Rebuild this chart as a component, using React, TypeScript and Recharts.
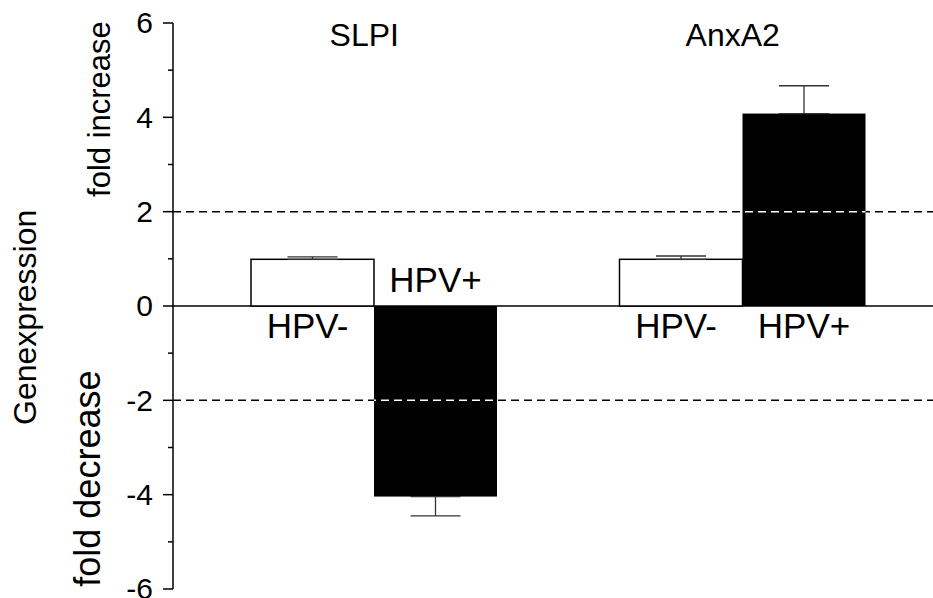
import React from "react";
import {
  BarChart,
  Bar,
  XAxis,
  YAxis,
  ErrorBar,
  ReferenceLine,
} from "recharts";

// values
const genes = ["SLPI", "AnxA2"];
const seriesNames = ["HPV-", "HPV+"];
const hpvNeg = [0.99, 0.99];
const hpvNegErr = [0.05, 0.07];
const hpvPos = [-4.04, 4.08];
const hpvPosErr = [0.41, 0.59];
const yTicks = [-6, -5, -4, -3, -2, -1, 0, 1, 2, 3, 4, 5, 6];
const thresholds = [2, -2];

const FONT = "'Liberation Sans', Arial, Helvetica, sans-serif";
const Y_AXIS_W = 173;
const DASH = "8 5";
const DASH_PERIOD = 13;

// one-sided error: only away from zero
const oneSided = (v: number, e: number) => (v >= 0 ? [0, e] : [e, 0]);

const data = genes.map((g, i) => ({
  gene: g,
  neg: hpvNeg[i],
  negErr: oneSided(hpvNeg[i], hpvNegErr[i]),
  pos: hpvPos[i],
  posErr: oneSided(hpvPos[i], hpvPosErr[i]),
}));

function BarShape(props: any) {
  const { x, y, width, height, payload, seriesKey, label, dark, labelDx } = props;
  const v: number = payload[seriesKey];
  const top = Math.min(y, y + height);
  const h = Math.abs(height);
  const ppu = h / Math.abs(v);
  const zeroY = v >= 0 ? top + h : top;
  // series label sits on the other side of zero
  const labelY = v >= 0 ? zeroY + 32 : zeroY - 14;

  return (
    <g>
      <rect
        x={x}
        y={top}
        width={width}
        height={h}
        fill={dark ? "#000" : "#fff"}
        stroke={dark ? "none" : "#000"}
        strokeWidth={1.5}
      />
      {dark &&
        thresholds
          .filter((t) => (v > 0 ? t > 0 && t < v : t < 0 && t > v))
          .map((t) => (
            <line
              key={t}
              x1={x}
              x2={x + width}
              y1={zeroY - t * ppu}
              y2={zeroY - t * ppu}
              stroke="#fff"
              strokeWidth={1.5}
              strokeDasharray={DASH}
              strokeDashoffset={(x - Y_AXIS_W) % DASH_PERIOD}
            />
          ))}
      <text
        x={x + width / 2 + labelDx}
        y={labelY}
        textAnchor="middle"
        fontSize={35}
        fontFamily={FONT}
        fill="#000"
      >
        {label}
      </text>
    </g>
  );
}

function YTick(props: any) {
  const { x, y, payload } = props;
  const v = payload.value;
  const major = v % 2 === 0;
  return (
    <g>
      <line x1={x - (major ? 10 : 5)} x2={x} y1={y} y2={y} stroke="#000" strokeWidth={1.5} />
      {major && (
        <text
          x={x - 20}
          y={y}
          dy="0.34em"
          textAnchor="end"
          fontSize={30}
          fontFamily={FONT}
          fill="#000"
        >
          {v}
        </text>
      )}
    </g>
  );
}

function GeneTick(props: any) {
  const { x, y, payload } = props;
  return (
    <text x={x - 10} y={y + 23} textAnchor="middle" fontSize={32} fontFamily={FONT} fill="#000">
      {payload.value}
    </text>
  );
}

function AxisTitles(props: any) {
  const vb = props.viewBox || { x: 0, y: 23, width: Y_AXIS_W, height: 566 };
  const rot = (tx: number, ty: number) => `rotate(-90 ${tx} ${ty})`;
  const gx = vb.x + 36, gy = vb.y + vb.height * 0.52;
  const ix = vb.x + 110, iy = vb.y + vb.height * 0.152;
  const dx = vb.x + 100, dy = vb.y + vb.height * 0.805;
  return (
    <g fontFamily={FONT} fill="#000" textAnchor="middle">
      <text x={gx} y={gy} fontSize={32} transform={rot(gx, gy)}>Genexpression</text>
      <text x={ix} y={iy} fontSize={31} transform={rot(ix, iy)}>fold increase</text>
      <text x={dx} y={dy} fontSize={36} transform={rot(dx, dy)}>fold decrease</text>
    </g>
  );
}

export default function App() {
  return (
    <div style={{ position: "absolute", left: 0, top: 0, background: "#fff" }}>
      <BarChart
        width={933}
        height={598}
        data={data}
        margin={{ top: 0, right: 0, bottom: 9, left: 0 }}
        barGap={0}
        barSize={123}
      >
        <XAxis
          dataKey="gene"
          orientation="top"
          height={23}
          axisLine={false}
          tickLine={false}
          tickSize={0}
          tickMargin={0}
          padding={{ left: 17, right: 6 }}
          tick={<GeneTick />}
          interval={0}
        />
        <YAxis
          type="number"
          domain={[-6, 6]}
          ticks={yTicks}
          interval={0}
          width={Y_AXIS_W}
          tickSize={0}
          tickMargin={0}
          tickLine={false}
          axisLine={{ stroke: "#000", strokeWidth: 1.5 }}
          tick={<YTick />}
          label={{ content: (p: any) => <AxisTitles {...p} /> }}
        />
        <ReferenceLine y={0} stroke="#000" strokeWidth={1.5} zIndex={100} />
        {thresholds.map((t) => (
          <ReferenceLine
            key={t}
            y={t}
            stroke="#000"
            strokeWidth={1.5}
            strokeDasharray={DASH}
            zIndex={100}
          />
        ))}
        <Bar
          dataKey="neg"
          isAnimationActive={false}
          shape={(p: any) => (
            <BarShape {...p} seriesKey="neg" label={seriesNames[0]} dark={false} labelDx={-5} />
          )}
        >
          <ErrorBar dataKey="negErr" width={25} stroke="#333" strokeWidth={1.3} />
        </Bar>
        <Bar
          dataKey="pos"
          isAnimationActive={false}
          shape={(p: any) => (
            <BarShape {...p} seriesKey="pos" label={seriesNames[1]} dark={true} labelDx={0} />
          )}
        >
          <ErrorBar dataKey="posErr" width={25} stroke="#333" strokeWidth={1.3} />
        </Bar>
      </BarChart>
    </div>
  );
}
